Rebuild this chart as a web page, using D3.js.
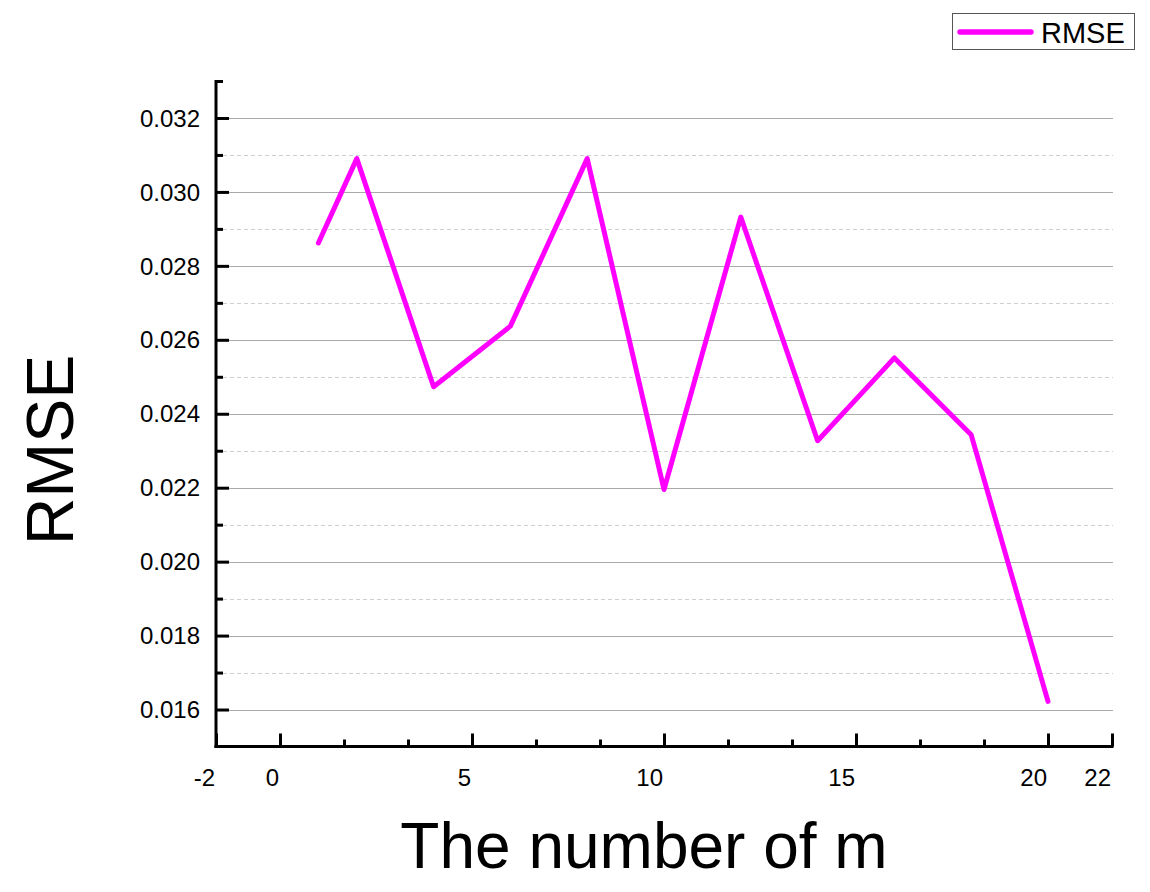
<!DOCTYPE html>
<html>
<head>
<meta charset="utf-8">
<script src="https://cdn.jsdelivr.net/npm/d3@7"></script>
<style>
  html, body { margin: 0; padding: 0; background: #fff; }
  svg { display: block; font-family: "Liberation Sans", Arial, sans-serif; }
</style>
</head>
<body>
<svg id="chart" width="1150" height="892"></svg>
<script>
// ---- data ----
const mValues = [1, 2, 4, 6, 8, 10, 12, 14, 16, 18, 20];
const rmseValues = [0.02862, 0.03090, 0.02473, 0.02637, 0.03090, 0.02195, 0.02932, 0.02327, 0.02551, 0.02343, 0.01622];
const xMajorTicks = [-5/3, 0, 5, 10, 15, 20, 65/3];
const xMinorTicks = [5/3, 10/3, 20/3, 25/3, 35/3, 40/3, 50/3, 55/3];
const yMajorTicks = [0.016, 0.018, 0.020, 0.022, 0.024, 0.026, 0.028, 0.030, 0.032];
const yMinorTicks = [0.017, 0.019, 0.021, 0.023, 0.025, 0.027, 0.029, 0.031, 0.033];
const seriesName = "RMSE";
const xTitle = "The number of m";
const yTitle = "RMSE";

// ---- layout ----
const plotLeft = 216, plotRight = 1112, plotTop = 81, plotBottom = 746.5;
const svg = d3.select("#chart");

const x = d3.scaleLinear().domain([-5/3, 65/3]).range([plotLeft, plotRight]);
const y = d3.scaleLinear().domain([0.015, 0.033]).range([plotBottom, plotTop]);

// gridlines
const grid = svg.append("g");
grid.selectAll("line.minor").data(yMinorTicks.filter(v => v < 0.0325)).join("line")
  .attr("class", "minor")
  .attr("x1", plotLeft).attr("x2", plotRight + 1)
  .attr("y1", d => Math.round(y(d)) + 0.5).attr("y2", d => Math.round(y(d)) + 0.5)
  .attr("stroke", "#cfcfcf").attr("stroke-width", 1).attr("stroke-dasharray", "4,3");
grid.selectAll("line.major").data(yMajorTicks).join("line")
  .attr("class", "major")
  .attr("x1", plotLeft).attr("x2", plotRight + 1)
  .attr("y1", d => Math.round(y(d)) + 0.5).attr("y2", d => Math.round(y(d)) + 0.5)
  .attr("stroke", "#aaaaaa").attr("stroke-width", 1.2);

// y axis (ticks inward)
const yAxis = d3.axisRight(y).tickValues(yMajorTicks).tickSize(13).tickFormat("");
const yAxisMinor = d3.axisRight(y).tickValues(yMinorTicks).tickSize(7).tickFormat("");
const gy = svg.append("g").attr("transform", `translate(${plotLeft},0)`).call(yAxis);
const gy2 = svg.append("g").attr("transform", `translate(${plotLeft},0)`).call(yAxisMinor);
[gy, gy2].forEach(g => {
  g.select(".domain").remove();
  g.selectAll(".tick line").attr("stroke", "#000").attr("stroke-width", 3);
});
svg.append("g").selectAll("text").data(yMajorTicks).join("text")
  .attr("x", plotLeft - 16).attr("y", d => y(d))
  .attr("dy", "0.36em").attr("text-anchor", "end")
  .attr("font-size", 24).attr("fill", "#000")
  .text(d => d3.format(".3f")(d));

// x axis (ticks inward)
const xAxis = d3.axisTop(x).tickValues(xMajorTicks).tickSize(13).tickFormat("");
const xAxisMinor = d3.axisTop(x).tickValues(xMinorTicks).tickSize(7).tickFormat("");
const gx = svg.append("g").attr("transform", `translate(0,${plotBottom})`).call(xAxis);
const gx2 = svg.append("g").attr("transform", `translate(0,${plotBottom})`).call(xAxisMinor);
[gx, gx2].forEach(g => {
  g.select(".domain").remove();
  g.selectAll(".tick line").attr("stroke", "#000").attr("stroke-width", 3);
});
svg.append("g").selectAll("text").data(xMajorTicks).join("text")
  .attr("x", d => x(d) - 1).attr("y", 786)
  .attr("text-anchor", "end")
  .attr("font-size", 24).attr("fill", "#000")
  .text(d => String(Math.round(d)));

// axis lines
svg.append("line").attr("x1", plotLeft).attr("x2", plotLeft).attr("y1", plotTop - 1).attr("y2", plotBottom + 1.5)
  .attr("stroke", "#000").attr("stroke-width", 3);
svg.append("line").attr("x1", plotLeft - 1.5).attr("x2", plotRight + 1.5).attr("y1", plotBottom).attr("y2", plotBottom)
  .attr("stroke", "#000").attr("stroke-width", 3);

// series line
const line = d3.line().x((d, i) => x(mValues[i])).y(d => y(d));
svg.append("path").datum(rmseValues)
  .attr("d", line)
  .attr("fill", "none").attr("stroke", "#ff00ff").attr("stroke-width", 5)
  .attr("stroke-linejoin", "round").attr("stroke-linecap", "round");

// titles
svg.append("text").attr("x", 644).attr("y", 868).attr("text-anchor", "middle")
  .attr("font-size", 64).attr("fill", "#000").text(xTitle);
svg.append("text").attr("transform", "translate(73,450) rotate(-90)").attr("text-anchor", "middle")
  .attr("font-size", 66).attr("fill", "#000").text(yTitle);

// legend
const lg = svg.append("g");
lg.append("rect").attr("x", 952.5).attr("y", 13.5).attr("width", 182).attr("height", 36)
  .attr("fill", "#fff").attr("stroke", "#555").attr("stroke-width", 1);
lg.append("line").attr("x1", 960).attr("x2", 1031).attr("y1", 32).attr("y2", 32)
  .attr("stroke", "#ff00ff").attr("stroke-width", 5.5).attr("stroke-linecap", "round");
lg.append("text").attr("x", 1041).attr("y", 42.5).attr("font-size", 29).attr("fill", "#000").text(seriesName);
</script>
</body>
</html>
